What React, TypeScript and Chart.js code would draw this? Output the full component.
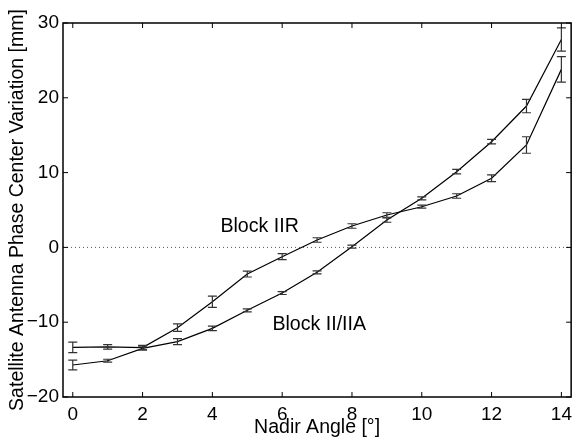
import React, { useEffect, useRef } from "react";
import { Chart, registerables } from "chart.js";

Chart.register(...registerables);

const angles = [0, 1, 2, 3, 4, 5, 6, 7, 8, 9, 10, 11, 12, 13, 14];
const blockIIR = [-13.36, -13.3, -13.4, -10.73, -7.26, -3.56, -1.24, 0.99, 2.86, 4.33, 5.44, 6.87, 9.24, 13.69, 23.8];
const blockIIRErr = [0.7, 0.3, 0.3, 0.5, 0.75, 0.4, 0.4, 0.3, 0.3, 0.3, 0.2, 0.3, 0.45, 1.1, 1.7];
const blockII = [-15.72, -15.15, -13.5, -12.6, -10.82, -8.41, -6.1, -3.33, 0.1, 3.66, 6.56, 10.12, 14.13, 18.9, 27.8];
const blockIIErr = [0.65, 0.2, 0.2, 0.4, 0.3, 0.2, 0.2, 0.2, 0.2, 0.3, 0.2, 0.3, 0.3, 0.9, 1.55];
const xTicks = [0, 2, 4, 6, 8, 10, 12, 14];
const yTicks = [-20, -10, 0, 10, 20, 30];
const labels = [
  { text: "Block IIR", x: 4.23, y: 2.1 },
  { text: "Block II/IIA", x: 5.72, y: -11.0 },
];

const FONT = "'Liberation Sans', Arial, Helvetica, sans-serif";

const decor = {
  id: "decor",
  beforeDatasetsDraw(chart: any) {
    const { ctx, chartArea: a, scales } = chart;
    const y0 = scales.y.getPixelForValue(0);
    ctx.save();
    ctx.strokeStyle = "#555";
    ctx.lineWidth = 1;
    ctx.setLineDash([1, 3]);
    ctx.beginPath();
    ctx.moveTo(a.left, y0);
    ctx.lineTo(a.right, y0);
    ctx.stroke();
    ctx.restore();
  },
  afterDatasetsDraw(chart: any) {
    const { ctx, chartArea: a, scales } = chart;
    const xs = scales.x, ys = scales.y;
    ctx.save();
    const series = [
      { v: blockIIR, e: blockIIRErr },
      { v: blockII, e: blockIIErr },
    ];
    ctx.strokeStyle = "#333";
    ctx.lineWidth = 1.2;
    const cap = 4.5;
    for (const s of series) {
      angles.forEach((ang, i) => {
        const px = xs.getPixelForValue(ang);
        const yt = ys.getPixelForValue(s.v[i] + s.e[i]);
        const yb = ys.getPixelForValue(s.v[i] - s.e[i]);
        ctx.beginPath();
        ctx.moveTo(px, yt);
        ctx.lineTo(px, yb);
        ctx.moveTo(px - cap, yt);
        ctx.lineTo(px + cap, yt);
        ctx.moveTo(px - cap, yb);
        ctx.lineTo(px + cap, yb);
        ctx.stroke();
      });
    }
    ctx.strokeStyle = "#000";
    ctx.lineWidth = 1.5;
    ctx.strokeRect(a.left, a.top, a.right - a.left, a.bottom - a.top);
    const tl = 5;
    ctx.lineWidth = 1;
    ctx.beginPath();
    for (const t of xTicks) {
      const px = xs.getPixelForValue(t);
      ctx.moveTo(px, a.bottom);
      ctx.lineTo(px, a.bottom - tl);
      ctx.moveTo(px, a.top);
      ctx.lineTo(px, a.top + tl);
    }
    for (const t of yTicks) {
      const py = ys.getPixelForValue(t);
      ctx.moveTo(a.left, py);
      ctx.lineTo(a.left + tl, py);
      ctx.moveTo(a.right, py);
      ctx.lineTo(a.right - tl, py);
    }
    ctx.stroke();
    ctx.fillStyle = "#000";
    ctx.font = `19.6px ${FONT}`;
    ctx.textAlign = "left";
    ctx.textBaseline = "alphabetic";
    for (const l of labels) {
      ctx.fillText(l.text, xs.getPixelForValue(l.x), ys.getPixelForValue(l.y));
    }
    ctx.restore();
  },
};

export default function App() {
  const ref = useRef<HTMLCanvasElement>(null);
  useEffect(() => {
    const chart = new Chart(ref.current!, {
      type: "line",
      data: {
        datasets: [
          {
            label: "Block IIR",
            data: angles.map((a, i) => ({ x: a, y: blockIIR[i] })),
            borderColor: "#000",
            borderWidth: 1.2,
            pointRadius: 0,
            tension: 0,
          },
          {
            label: "Block II/IIA",
            data: angles.map((a, i) => ({ x: a, y: blockII[i] })),
            borderColor: "#000",
            borderWidth: 1.2,
            pointRadius: 0,
            tension: 0,
          },
        ],
      },
      options: {
        animation: false,
        responsive: false,
        layout: { padding: { top: 23, right: 3, left: 0, bottom: 0 } },
        plugins: { legend: { display: false }, tooltip: { enabled: false } },
        scales: {
          x: {
            type: "linear",
            min: -0.28,
            max: 14.28,
            grid: { display: false, drawTicks: false },
            border: { display: false },
            afterBuildTicks: (s: any) => {
              s.ticks = xTicks.map((v) => ({ value: v }));
            },
            afterFit: (s: any) => {
              s.height = 47;
            },
            ticks: {
              color: "#000",
              font: { family: FONT, size: 19 },
              padding: 6,
              maxRotation: 0,
              autoSkip: false,
            },
            title: {
              display: true,
              text: "Nadir Angle [°]",
              color: "#000",
              font: { family: FONT, size: 19.5 },
              padding: { top: 0, bottom: 5 },
            },
          },
          y: {
            type: "linear",
            min: -20,
            max: 30,
            grid: { display: false, drawTicks: false },
            border: { display: false },
            afterBuildTicks: (s: any) => {
              s.ticks = yTicks.map((v) => ({ value: v }));
            },
            afterFit: (s: any) => {
              s.width = 63;
            },
            ticks: {
              color: "#000",
              font: { family: FONT, size: 19 },
              padding: 4,
              autoSkip: false,
              callback: (v: any) => (v < 0 ? "\u2212" + Math.abs(v) : String(v)),
            },
            title: {
              display: true,
              text: "Satellite Antenna Phase Center Variation [mm]",
              color: "#000",
              font: { family: FONT, size: 19.5 },
              padding: { top: 6, bottom: 0 },
            },
          },
        },
      },
      plugins: [decor],
    } as any);
    return () => chart.destroy();
  }, []);
  return (
    <div style={{ position: "absolute", left: 0, top: 0, width: 578, height: 444, background: "#fff" }}>
      <canvas ref={ref} width={578} height={444} style={{ width: 578, height: 444 }} />
    </div>
  );
}
